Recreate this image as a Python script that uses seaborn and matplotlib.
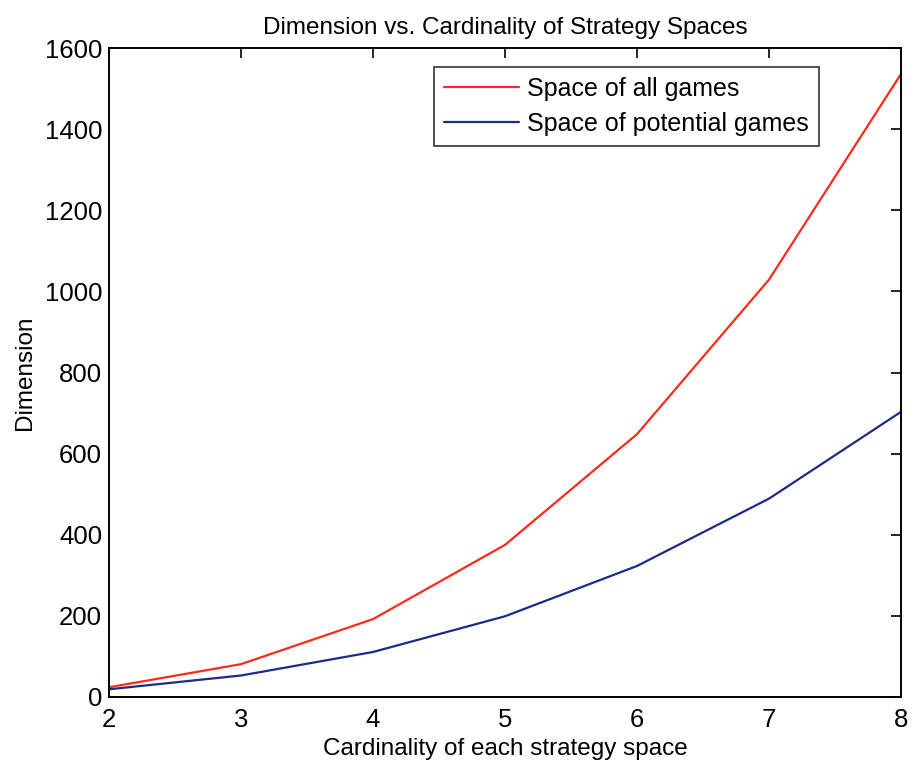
import matplotlib
matplotlib.use("Agg")
import matplotlib.pyplot as plt
import seaborn as sns
import pandas as pd

cardinality = [2, 3, 4, 5, 6, 7, 8]
all_games = [24, 81, 192, 375, 648, 1029, 1536]
potential_games = [19, 53, 111, 199, 323, 489, 703]
series_names = ["Space of all games", "Space of potential games"]

df = pd.DataFrame({
    "Cardinality": cardinality * 2,
    "Dimension": all_games + potential_games,
    "Series": [series_names[0]] * len(cardinality) + [series_names[1]] * len(cardinality),
})

sns.set_theme(style="white")
plt.rcParams["font.family"] = ["Liberation Sans", "DejaVu Sans"]
plt.rcParams["text.color"] = "black"
plt.rcParams["axes.labelcolor"] = "black"

fig = plt.figure(figsize=(9.14, 7.65), dpi=100)
ax = fig.add_axes([109 / 914, 1 - 697 / 765, (901 - 109) / 914, (697 - 48) / 765])

sns.lineplot(data=df, x="Cardinality", y="Dimension", hue="Series",
             palette={series_names[0]: "#ff2a1a", series_names[1]: "#1c2a8c"},
             linewidth=1.6, ax=ax)

ax.set_xlim(2, 8)
ax.set_ylim(0, 1600)
ax.set_xticks(cardinality)
ax.set_yticks(range(0, 1601, 200))
ax.tick_params(axis="both", which="both", direction="in", length=7, width=1.2,
               top=True, right=True, labelsize=18.5, colors="black")
ax.tick_params(axis="x", pad=8)
ax.tick_params(axis="y", pad=5)
for s in ax.spines.values():
    s.set_color("black")
    s.set_linewidth(1.4)

ax.set_title("Dimension vs. Cardinality of Strategy Spaces", fontsize=17.5, pad=10,
             color="black")
ax.set_xlabel("Cardinality of each strategy space", fontsize=17.5, labelpad=4)
ax.set_ylabel("Dimension", fontsize=17.5, labelpad=6)

leg = ax.legend(loc="upper right", bbox_to_anchor=(0.8965, 0.971), fontsize=18,
                frameon=True, fancybox=False, handlelength=3.0, borderpad=0.4,
                labelspacing=0.45, handletextpad=0.35, borderaxespad=0)
leg.get_frame().set_edgecolor("black")
leg.get_frame().set_linewidth(1.2)
for t in leg.get_texts():
    t.set_color("black")

fig.savefig("out.png", dpi=100, facecolor="white")
